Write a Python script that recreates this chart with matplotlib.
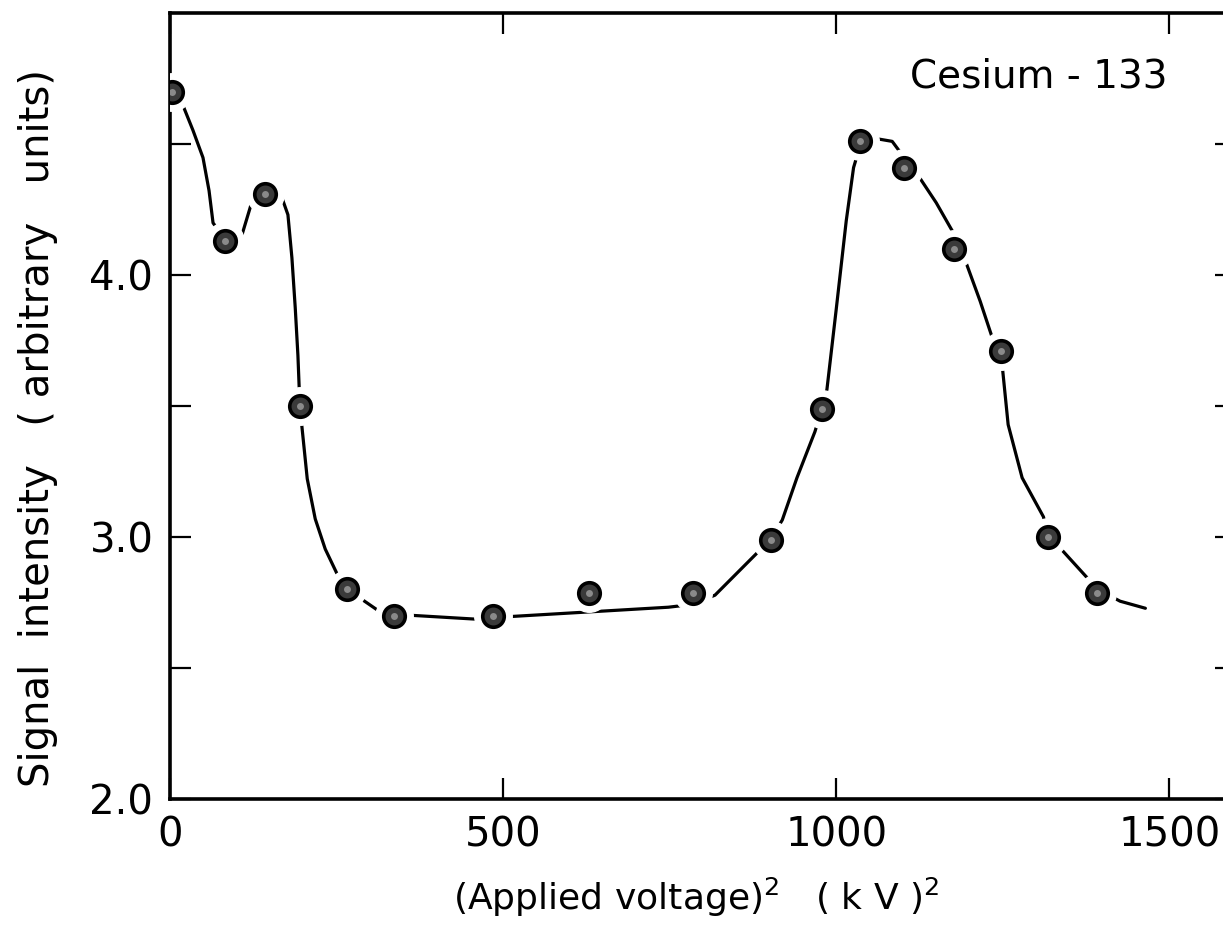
import matplotlib
matplotlib.use("Agg")
import matplotlib.pyplot as plt
from matplotlib.ticker import FixedLocator, NullFormatter

# ---- data ----
x_points = [3, 83, 143, 195, 266, 336, 485, 629, 785, 902, 979, 1035, 1101, 1176, 1248, 1318, 1392]
y_points = [4.70, 4.13, 4.31, 3.50, 2.80, 2.70, 2.70, 2.785, 2.785, 2.99, 3.49, 4.51, 4.41, 4.10, 3.71, 3.00, 2.785]

curve_x = [19.5, 34.5, 49.5, 58.6, 64.6, 82.6, 108, 123, 144, 168, 177, 183, 188, 192, 195, 198,
           206, 218, 233, 251, 266, 288, 312, 336, 363, 462, 485, 515, 748, 785, 818, 878, 902,
           919, 941, 968, 979, 986, 1000, 1015, 1026, 1035, 1059, 1084, 1102, 1126, 1150, 1174,
           1195, 1216, 1234, 1248, 1258, 1279, 1311, 1318, 1336, 1380, 1392, 1426, 1464]
curve_y = [4.647, 4.552, 4.448, 4.322, 4.199, 4.134, 4.153, 4.280, 4.318, 4.295, 4.230, 4.065,
           3.874, 3.693, 3.498, 3.421, 3.222, 3.069, 2.954, 2.858, 2.801, 2.762, 2.720, 2.701,
           2.701, 2.686, 2.690, 2.697, 2.732, 2.743, 2.778, 2.931, 2.992, 3.065, 3.226, 3.402,
           3.494, 3.563, 3.870, 4.207, 4.410, 4.487, 4.521, 4.510, 4.448, 4.368, 4.276, 4.169,
           4.046, 3.900, 3.762, 3.682, 3.429, 3.226, 3.077, 3.004, 2.958, 2.835, 2.801, 2.755,
           2.728]

x_ticks = [0, 500, 1000, 1500]
x_ticklabels = ["0", "500", "1000", "1500"]
y_major = [2.0, 3.0, 4.0]
y_major_labels = ["2.0", "3.0", "4.0"]
y_minor = [2.5, 3.5, 4.5]

FONT = ["DejaVu Sans"]

W, H = 1223, 927
fig = plt.figure(figsize=(W / 100, H / 100), dpi=100)
ax = fig.add_axes([170 / W, (H - 799) / H, (1236 - 170) / W, (799 - 13) / H])

ax.set_xlim(0, 1600)
ax.set_ylim(2.0, 5.0)

# curve, then white halos to break the line at the markers, then markers
ax.plot(curve_x, curve_y, color="black", lw=2.3, solid_capstyle="round",
        solid_joinstyle="round", zorder=2)
ax.plot(x_points, y_points, ls="none", marker="o", ms=27, mfc="white", mec="white", zorder=3)
ax.plot(x_points, y_points, ls="none", marker="o", ms=15.5, mfc="#3a3a3a", mec="black",
        mew=2.6, zorder=4)
ax.plot(x_points, y_points, ls="none", marker="o", ms=5, mfc="#8a8a8a", mec="none", zorder=5)

# spines
for s in ["left", "bottom", "top", "right"]:
    ax.spines[s].set_linewidth(2.6)
    ax.spines[s].set_color("black")

# ticks
ax.xaxis.set_major_locator(FixedLocator(x_ticks))
ax.set_xticklabels(x_ticklabels)
ax.yaxis.set_major_locator(FixedLocator(y_major))
ax.set_yticklabels(y_major_labels)
ax.yaxis.set_minor_locator(FixedLocator(y_minor))
ax.yaxis.set_minor_formatter(NullFormatter())

ax.tick_params(axis="both", which="both", direction="in", length=15, width=1.6,
               top=True, right=True, color="black")
ax.tick_params(axis="both", which="major", labelsize=29, pad=12, labelcolor="black")
for lab in ax.get_xticklabels() + ax.get_yticklabels():
    lab.set_family(FONT)

# labels
fig.text(38 / W, 1 - 428 / H, "Signal  intensity   ( arbitrary   units)", rotation=90,
         ha="center", va="center", fontsize=29, family=FONT, color="black")
fig.text(696 / W, 1 - 897 / H,
         r"(Applied voltage)$^{\mathregular{2}}$   ( k V )$^{\mathregular{2}}$",
         ha="center", va="center", fontsize=26, family=FONT, color="black")
fig.text(1039 / W, 1 - 77 / H, "Cesium - 133", ha="center", va="center", fontsize=28,
         family=FONT, color="black")

fig.savefig("out.png", dpi=100)
